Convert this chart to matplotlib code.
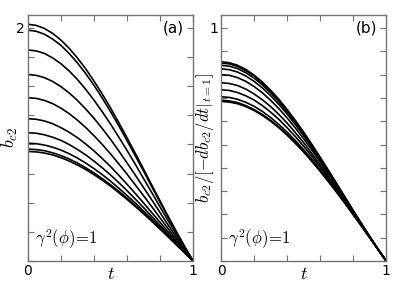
import numpy as np
import matplotlib
matplotlib.use("Agg")
import matplotlib.pyplot as plt

plt.rcParams['mathtext.fontset'] = 'cm'
plt.rcParams['font.family'] = 'DejaVu Sans'

# --- data ---
t = [0.0, 0.05, 0.1, 0.15, 0.2, 0.25, 0.3, 0.35, 0.4, 0.45, 0.5,
     0.55, 0.6, 0.65, 0.7, 0.75, 0.8, 0.85, 0.9, 0.95, 1.0]

# panel (b): b_c2 / |db_c2/dt| at t=1, one list per curve (top to bottom)
nrm_1 = [0.855, 0.851, 0.840, 0.822, 0.798, 0.768, 0.733, 0.694, 0.650, 0.603, 0.553,
         0.500, 0.445, 0.389, 0.332, 0.274, 0.217, 0.160, 0.105, 0.051, 0.0]
nrm_2 = [0.850, 0.846, 0.835, 0.817, 0.794, 0.764, 0.729, 0.690, 0.647, 0.600, 0.550,
         0.498, 0.443, 0.387, 0.331, 0.273, 0.216, 0.160, 0.105, 0.051, 0.0]
nrm_3 = [0.840, 0.836, 0.826, 0.808, 0.785, 0.756, 0.722, 0.683, 0.640, 0.594, 0.545,
         0.493, 0.440, 0.385, 0.328, 0.272, 0.215, 0.159, 0.105, 0.051, 0.0]
nrm_4 = [0.825, 0.821, 0.811, 0.794, 0.771, 0.743, 0.710, 0.672, 0.631, 0.586, 0.538,
         0.487, 0.434, 0.380, 0.325, 0.270, 0.214, 0.158, 0.104, 0.051, 0.0]
nrm_5 = [0.800, 0.797, 0.787, 0.771, 0.749, 0.722, 0.690, 0.654, 0.614, 0.571, 0.525,
         0.476, 0.426, 0.373, 0.320, 0.266, 0.211, 0.157, 0.103, 0.051, 0.0]
nrm_6 = [0.765, 0.762, 0.753, 0.738, 0.717, 0.692, 0.663, 0.629, 0.592, 0.551, 0.508,
         0.461, 0.413, 0.363, 0.312, 0.260, 0.208, 0.155, 0.102, 0.051, 0.0]
nrm_7 = [0.735, 0.732, 0.723, 0.709, 0.691, 0.667, 0.639, 0.608, 0.572, 0.534, 0.493,
         0.449, 0.403, 0.355, 0.306, 0.255, 0.204, 0.153, 0.102, 0.050, 0.0]
nrm_8 = [0.705, 0.702, 0.694, 0.681, 0.664, 0.642, 0.616, 0.586, 0.553, 0.517, 0.478,
         0.436, 0.392, 0.347, 0.299, 0.251, 0.201, 0.151, 0.101, 0.050, 0.0]
nrm_9 = [0.690, 0.687, 0.680, 0.667, 0.650, 0.629, 0.604, 0.575, 0.543, 0.508, 0.470,
         0.430, 0.387, 0.342, 0.296, 0.248, 0.200, 0.150, 0.100, 0.050, 0.0]
nrm_10 = [0.685, 0.682, 0.675, 0.663, 0.646, 0.625, 0.600, 0.572, 0.540, 0.505, 0.468,
          0.427, 0.385, 0.341, 0.295, 0.248, 0.199, 0.150, 0.100, 0.050, 0.0]

# |db_c2/dt| at t=1 for each curve (a)
slope_t1 = [2.374, 2.329, 2.155, 1.939, 1.750, 1.595, 1.497, 1.433, 1.391, 1.372]

curves_b = [nrm_1, nrm_2, nrm_3, nrm_4, nrm_5, nrm_6, nrm_7, nrm_8, nrm_9, nrm_10]
# panel (a) is just the un-normalised b_c2
curves_a = [np.array(c) * s for c, s in zip(curves_b, slope_t1)]

fig = plt.figure(figsize=(3.99, 2.99), dpi=100)
ax1 = fig.add_axes([0.070, 0.127, 0.414, 0.823])
ax2 = fig.add_axes([0.554, 0.127, 0.414, 0.823])


def style(ax, ymax, ystep, ylab_val):
    ax.set_xlim(0, 1)
    ax.set_ylim(0, ymax)
    ax.set_xticks(np.arange(0, 1.01, 0.2))
    ax.set_xticklabels(['0', '', '', '', '', '1'])
    yt = np.arange(0, ymax, ystep)
    ax.set_yticks(yt)
    ax.set_yticklabels([('%g' % v) if abs(v - ylab_val) < 1e-6 else '' for v in yt])
    ax.tick_params(direction='in', top=True, right=True, length=4,
                   width=0.8, color='0.45', labelsize=10, pad=2)
    for sp in ax.spines.values():
        sp.set_color('0.45')
        sp.set_linewidth(1.0)
    ax.set_xlabel('$t$', fontsize=13, labelpad=-9)


for c in curves_a:
    ax1.plot(t, c, color='black', lw=1.2)
style(ax1, 2.11, 0.25, 2)
ax1.set_ylabel('$b_{c2}$', fontsize=13)
ax1.yaxis.set_label_coords(-0.045, 0.5)
ax1.text(0.88, 0.945, '(a)', transform=ax1.transAxes, fontsize=11,
         ha='center', va='center')
ax1.text(0.045, 0.07, r'$\gamma^2(\phi)\!=\!1$', transform=ax1.transAxes,
         fontsize=12, ha='left', va='baseline')

for c in curves_b:
    ax2.plot(t, c, color='black', lw=1.2)
style(ax2, 1.056, 0.1, 1)
ax2.set_ylabel(r'$b_{c2}/\left[-db_{c2}/dt|_{t=1}\right]$', fontsize=12)
ax2.yaxis.set_label_coords(-0.03, 0.5)
ax2.text(0.88, 0.945, '(b)', transform=ax2.transAxes, fontsize=11,
         ha='center', va='center')
ax2.text(0.045, 0.07, r'$\gamma^2(\phi)\!=\!1$', transform=ax2.transAxes,
         fontsize=12, ha='left', va='baseline')

fig.savefig('out.png', dpi=100)
